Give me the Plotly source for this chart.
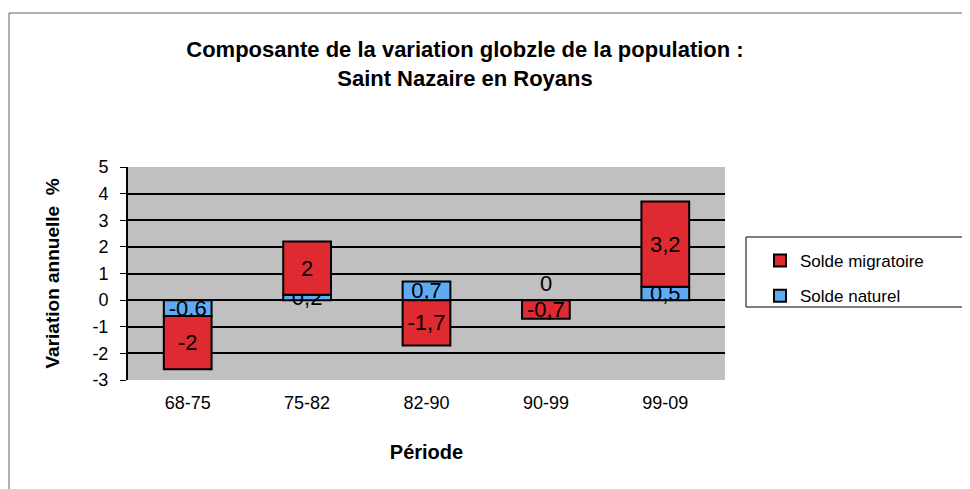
import plotly.graph_objects as go

periods = ["68-75", "75-82", "82-90", "90-99", "99-09"]
solde_naturel = [-0.6, 0.2, 0.7, 0.0, 0.5]
solde_migratoire = [-2.0, 2.0, -1.7, -0.7, 3.2]
y_ticks = [-3, -2, -1, 0, 1, 2, 3, 4, 5]

def fmt(v):
    return ("%g" % v).replace(".", ",")

W, H = 970, 489
OFF = 8  # page body margin
L, R, T, B = 128 - OFF, W - 725 + OFF, 167 - OFF, H - 380 + OFF
pw, ph = W - L - R, H - T - B

def px(x):
    return (x - OFF - L) / pw

def py(y):
    return (H - B - (y - OFF)) / ph

FONT = "Liberation Sans, Arial"
LBL = 22

fig = go.Figure()
fig.add_trace(go.Bar(
    x=periods, y=solde_naturel, name="Solde naturel", legendgroup="n", legendrank=2,
    marker=dict(color="#5fabf3", line=dict(color="#000000", width=2)),
    text=[fmt(v) for v in solde_naturel], textposition="inside",
    insidetextanchor="middle", textangle=0,
    textfont=dict(color="#000000", size=LBL, family=FONT),
    cliponaxis=False,
))
fig.add_trace(go.Bar(
    x=periods, y=solde_migratoire, name="Solde migratoire", legendgroup="m", legendrank=1,
    marker=dict(color="#e02a32", line=dict(color="#000000", width=2)),
    text=[fmt(v) for v in solde_migratoire], textposition="inside",
    insidetextanchor="middle", textangle=0,
    textfont=dict(color="#000000", size=LBL, family=FONT),
    cliponaxis=False,
))

# zero-height segment label (not drawn by plotly inside a zero bar)
annotations = []
for p, v in zip(periods, solde_naturel):
    if v == 0:
        annotations.append(dict(x=p, y=v, text=fmt(v), showarrow=False,
                                yshift=17, font=dict(size=LBL, family=FONT, color="#000000")))

fig.update_layout(
    width=W, height=H,
    margin=dict(l=L, r=R, t=T, b=B, autoexpand=False),
    barmode="relative",
    bargap=0.6,
    paper_bgcolor="#ffffff",
    plot_bgcolor="#c0c0c0",
    font=dict(family=FONT, color="#000000"),
    uniformtext=dict(minsize=LBL, mode="show"),
    title=dict(
        text="<b>Composante de la variation globzle de la population :<br>Saint Nazaire en Royans</b>",
        x=(465 - OFF) / W, xanchor="center", xref="container",
        y=1 - (57 - OFF) / H, yanchor="middle", yref="container",
        font=dict(size=22, family=FONT, color="#000000"),
    ),
    annotations=annotations,
    xaxis=dict(
        type="category", showgrid=False, ticks="", tickfont=dict(size=18),
        automargin=False, ticklabelstandoff=10,
        title=dict(text="<b>Période</b>", font=dict(size=20), standoff=32),
        showline=False,
    ),
    yaxis=dict(
        range=[-3, 5], tickvals=y_ticks, ticktext=[str(v) for v in y_ticks],
        automargin=False,
        showgrid=True, gridcolor="#000000", gridwidth=1.5,
        zeroline=True, zerolinecolor="#000000", zerolinewidth=1.5,
        ticks="outside", ticklen=6, tickcolor="#000000",
        showline=True, linecolor="#000000", linewidth=2,
        tickfont=dict(size=18), ticklabelstandoff=8,
        title=dict(text="<b>Variation annuelle  %</b>", font=dict(size=19), standoff=28),
    ),
    legend=dict(
        x=px(760), y=py(243), xanchor="left", yanchor="top",
        traceorder="grouped", tracegroupgap=10,
        borderwidth=0, bgcolor="rgba(0,0,0,0)", font=dict(size=17),
        itemwidth=30,
    ),
    shapes=[
        dict(type="rect", xref="paper", yref="paper",
             x0=px(9), x1=px(990), y0=py(520), y1=py(13),
             line=dict(color="#606060", width=1), layer="below"),
        dict(type="rect", xref="paper", yref="paper",
             x0=px(746), x1=px(968), y0=py(307), y1=py(237),
             line=dict(color="#000000", width=1), fillcolor="#ffffff", layer="below"),
    ],
)

fig.write_html("out.html")
